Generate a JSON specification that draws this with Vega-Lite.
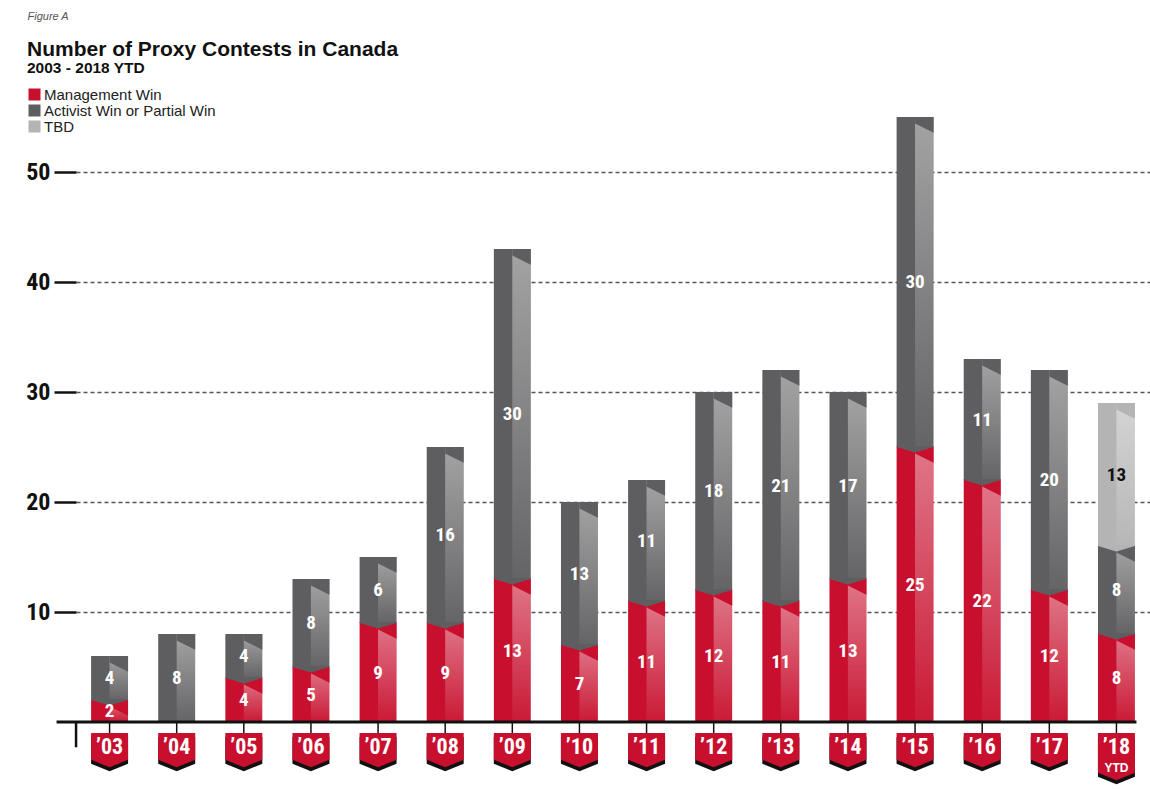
{
  "$schema": "https://vega.github.io/schema/vega-lite/v6.json",
  "width": 1074,
  "height": 605,
  "autosize": "none",
  "padding": {"left": 76, "top": 117, "right": 0, "bottom": 67},
  "background": "white",
  "config": {"view": {"stroke": null}},
  "title": {
    "text": "Number of Proxy Contests in Canada",
    "subtitle": "2003 - 2018 YTD",
    "anchor": "start",
    "frame": "group",
    "dx": -49,
    "offset": -66,
    "font": "Liberation Sans",
    "fontSize": 21,
    "fontWeight": "bold",
    "color": "#111111",
    "subtitleFont": "Liberation Sans",
    "subtitleFontSize": 15.5,
    "subtitleFontWeight": "bold",
    "subtitleColor": "#111111",
    "subtitlePadding": 1
  },
  "datasets": {
    "contests": [
      {"year": "’03", "series": "Management Win", "count": 2},
      {"year": "’03", "series": "Activist Win or Partial Win", "count": 4},
      {"year": "’04", "series": "Activist Win or Partial Win", "count": 8},
      {"year": "’05", "series": "Management Win", "count": 4},
      {"year": "’05", "series": "Activist Win or Partial Win", "count": 4},
      {"year": "’06", "series": "Management Win", "count": 5},
      {"year": "’06", "series": "Activist Win or Partial Win", "count": 8},
      {"year": "’07", "series": "Management Win", "count": 9},
      {"year": "’07", "series": "Activist Win or Partial Win", "count": 6},
      {"year": "’08", "series": "Management Win", "count": 9},
      {"year": "’08", "series": "Activist Win or Partial Win", "count": 16},
      {"year": "’09", "series": "Management Win", "count": 13},
      {"year": "’09", "series": "Activist Win or Partial Win", "count": 30},
      {"year": "’10", "series": "Management Win", "count": 7},
      {"year": "’10", "series": "Activist Win or Partial Win", "count": 13},
      {"year": "’11", "series": "Management Win", "count": 11},
      {"year": "’11", "series": "Activist Win or Partial Win", "count": 11},
      {"year": "’12", "series": "Management Win", "count": 12},
      {"year": "’12", "series": "Activist Win or Partial Win", "count": 18},
      {"year": "’13", "series": "Management Win", "count": 11},
      {"year": "’13", "series": "Activist Win or Partial Win", "count": 21},
      {"year": "’14", "series": "Management Win", "count": 13},
      {"year": "’14", "series": "Activist Win or Partial Win", "count": 17},
      {"year": "’15", "series": "Management Win", "count": 25},
      {"year": "’15", "series": "Activist Win or Partial Win", "count": 30},
      {"year": "’16", "series": "Management Win", "count": 22},
      {"year": "’16", "series": "Activist Win or Partial Win", "count": 11},
      {"year": "’17", "series": "Management Win", "count": 12},
      {"year": "’17", "series": "Activist Win or Partial Win", "count": 20},
      {"year": "’18", "series": "Management Win", "count": 8},
      {"year": "’18", "series": "Activist Win or Partial Win", "count": 8},
      {"year": "’18", "series": "TBD", "count": 13}
    ],
    "years": [
      {"year": "’03"}, {"year": "’04"}, {"year": "’05"}, {"year": "’06"},
      {"year": "’07"}, {"year": "’08"}, {"year": "’09"}, {"year": "’10"},
      {"year": "’11"}, {"year": "’12"}, {"year": "’13"}, {"year": "’14"},
      {"year": "’15"}, {"year": "’16"}, {"year": "’17"}, {"year": "’18"}
    ]
  },
  "layer": [
    {
      "data": {"name": "contests"},
      "transform": [
        {"calculate": "indexof(['Management Win','Activist Win or Partial Win','TBD'], datum.series)", "as": "k"},
        {"stack": "count", "groupby": ["year"], "sort": [{"field": "k", "order": "ascending"}], "as": ["v0", "v1"]}
      ],
      "layer": [
        {
          "mark": {"type": "bar"},
          "encoding": {
            "x": {
              "field": "year", "type": "nominal", "title": null,
              "scale": {"paddingInner": 0.45, "paddingOuter": 0.225},
              "axis": null
            },
            "y": {
              "field": "v0", "type": "quantitative", "title": "Figure A",
              "scale": {"domain": [0, 55], "nice": false},
              "axis": {
                "values": [10, 20, 30, 40, 50],
                "domain": false,
                "ticks": true, "tickSize": 22, "tickWidth": 2.5, "tickColor": "#111111",
                "labelFont": "Roboto Condensed, DejaVu Sans Condensed, Liberation Sans Narrow, Roboto", "labelFontSize": 24, "labelFontWeight": "bold",
                "labelColor": "#111111", "labelPadding": 4,
                "grid": true, "gridDash": [4, 3], "gridColor": "#555555", "gridWidth": 1.3,
                "titleAngle": 0, "titleX": -49, "titleY": -98, "titleAlign": "left",
                "titleBaseline": "alphabetic", "titleFont": "Liberation Sans", "titleFontSize": 11,
                "titleFontStyle": "italic", "titleFontWeight": "normal", "titleColor": "#555555"
              }
            },
            "y2": {"field": "v1"},
            "color": {
              "field": "series", "type": "nominal",
              "scale": {
                "domain": ["Management Win", "Activist Win or Partial Win", "TBD"],
                "range": ["#c8102e", "#5e5e60", "#b4b4b4"]
              },
              "legend": {
                "title": null, "orient": "none", "legendX": -49, "legendY": -30,
                "symbolType": "square", "symbolSize": 144, "symbolStrokeWidth": 0, "symbolOpacity": 1,
                "labelFont": "Liberation Sans", "labelFontSize": 15, "labelColor": "#222222",
                "labelLimit": 400, "rowPadding": 0, "labelOffset": 2
              }
            }
          }
        },
        {
          "mark": {
            "type": "bar",
            "width": {"band": 0.5},
            "xOffset": 9.2,
            "fill": {
              "gradient": "linear", "x1": 0, "y1": 0, "x2": 0, "y2": 1,
              "stops": [
                {"offset": 0, "color": "rgba(255,255,255,0.43)"},
                {"offset": 1, "color": "rgba(255,255,255,0.04)"}
              ]
            }
          },
          "encoding": {
            "x": {"field": "year", "type": "nominal", "title": null},
            "y": {"field": "v0", "type": "quantitative", "title": "Figure A"},
            "y2": {"field": "v1"}
          }
        },
        {
          "mark": {"type": "point", "filled": true, "opacity": 1, "size": 1369, "strokeWidth": 0, "shape": "M0,0L1,0L1,0.85L0,0.35Z"},
          "encoding": {
            "x": {"field": "year", "type": "nominal", "title": null},
            "y": {"field": "v1", "type": "quantitative", "title": "Figure A"},
            "color": {"field": "series", "type": "nominal", "legend": null}
          }
        },
        {
          "transform": [{"filter": "datum.v0 > 0"}],
          "mark": {"type": "point", "filled": true, "opacity": 1, "size": 1369, "strokeWidth": 0, "shape": "M-1,-0.05L1,-0.05L1,0L0,0.3L-1,0Z"},
          "encoding": {
            "x": {"field": "year", "type": "nominal", "title": null},
            "y": {"field": "v0", "type": "quantitative", "title": "Figure A"},
            "color": {"field": "series", "type": "nominal", "legend": null}
          }
        },
        {
          "mark": {
            "type": "text",
            "font": "Roboto Condensed, DejaVu Sans Condensed, Liberation Sans Narrow, Roboto",
            "fontSize": 19,
            "fontWeight": "bold",
            "baseline": "middle",
            "align": "center"
          },
          "encoding": {
            "x": {"field": "year", "type": "nominal", "title": null},
            "y": {"field": "count", "type": "quantitative", "stack": "zero", "bandPosition": 0.5, "title": "Figure A"},
            "detail": {"field": "series"},
            "order": {"field": "k"},
            "text": {"field": "count"},
            "color": {"condition": {"test": "datum.series === 'TBD'", "value": "#111111"}, "value": "#ffffff"}
          }
        }
      ]
    },
    {
      "data": {"name": "years"},
      "layer": [
        {
          "mark": {"type": "rule", "strokeWidth": 1.5, "color": "#111111"},
          "encoding": {
            "x": {"field": "year", "type": "nominal", "title": null},
            "y": {"datum": 0, "title": "Figure A"},
            "y2": {"datum": -1.1}
          }
        },
        {
          "transform": [{"filter": "datum.year === '’03'"}],
          "mark": {"type": "rule", "strokeWidth": 3, "color": "#111111", "xOffset": -53, "x2Offset": 20},
          "encoding": {
            "x": {"datum": "’03"},
            "x2": {"datum": "’18"},
            "y": {"datum": 0, "title": "Figure A"}
          }
        },
        {
          "transform": [{"filter": "datum.year === '’03'"}],
          "mark": {"type": "rule", "strokeWidth": 2.5, "color": "#111111", "xOffset": -33.5},
          "encoding": {
            "x": {"field": "year", "type": "nominal", "title": null},
            "y": {"datum": 0, "title": "Figure A"},
            "y2": {"datum": -2.3}
          }
        },
        {
          "mark": {"type": "point", "filled": true, "color": "#111111", "opacity": 1, "size": 1369, "strokeWidth": 0, "yOffset": 4},
          "encoding": {
            "x": {"field": "year", "type": "nominal", "title": null},
            "y": {"datum": -1, "title": "Figure A"},
            "shape": {
              "condition": {"test": "datum.year === '’18'", "value": "M-1,0L1,0L1,2.15L0,2.55L-1,2.15Z"},
              "value": "M-1,0L1,0L1,1.45L0,1.85L-1,1.45Z"
            }
          }
        },
        {
          "mark": {"type": "point", "filled": true, "color": "#c8102e", "opacity": 1, "size": 1369, "strokeWidth": 0},
          "encoding": {
            "x": {"field": "year", "type": "nominal", "title": null},
            "y": {"datum": -1, "title": "Figure A"},
            "shape": {
              "condition": {"test": "datum.year === '’18'", "value": "M-1,0L1,0L1,2.15L0,2.55L-1,2.15Z"},
              "value": "M-1,0L1,0L1,1.45L0,1.85L-1,1.45Z"
            }
          }
        },
        {
          "mark": {"type": "text", "font": "Roboto Condensed, DejaVu Sans Condensed, Liberation Sans Narrow, Roboto", "fontSize": 22, "fontWeight": "bold", "color": "#ffffff", "baseline": "middle", "align": "center"},
          "encoding": {
            "x": {"field": "year", "type": "nominal", "title": null},
            "y": {"datum": -2.3, "title": "Figure A"},
            "text": {"field": "year"}
          }
        },
        {
          "transform": [{"filter": "datum.year === '’18'"}],
          "mark": {"type": "text", "font": "Liberation Sans", "fontSize": 12, "fontWeight": "bold", "color": "#ffffff", "baseline": "middle", "align": "center"},
          "encoding": {
            "x": {"field": "year", "type": "nominal", "title": null},
            "y": {"datum": -4.2, "title": "Figure A"},
            "text": {"value": "YTD"}
          }
        }
      ]
    }
  ]
}
